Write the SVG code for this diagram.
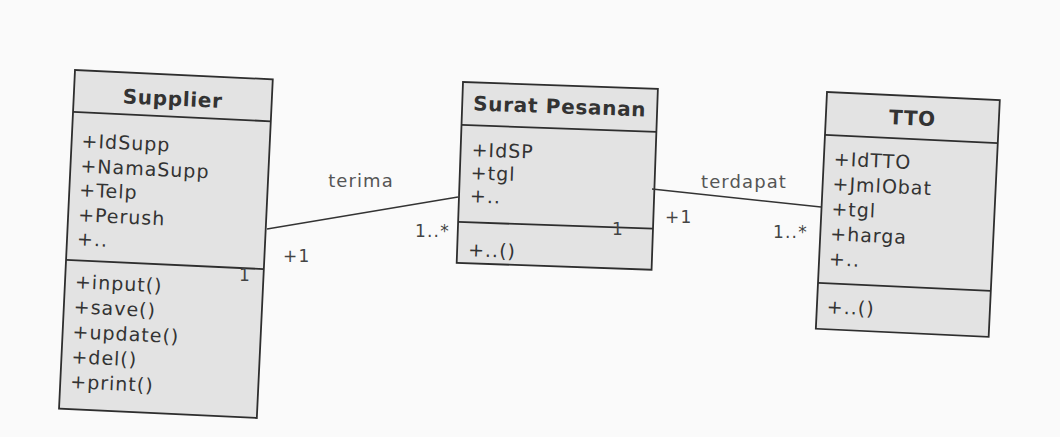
<svg xmlns="http://www.w3.org/2000/svg" width="1060" height="437" viewBox="0 0 1060 437">
<style>
.box{fill:#e3e3e3;stroke:#2e2e2e;stroke-width:1.8}
.sep{stroke:#2e2e2e;stroke-width:1.8}
.title{font-family:"DejaVu Sans",Verdana,sans-serif;font-weight:bold;font-size:20px;fill:#333;text-anchor:middle;letter-spacing:0.7px}
.item{font-family:"DejaVu Sans",Verdana,sans-serif;font-size:19px;fill:#333;letter-spacing:1px}
.conn{stroke:#333;stroke-width:1.4;fill:none}
.lbl{font-family:"DejaVu Sans",Verdana,sans-serif;font-size:18px;fill:#555;letter-spacing:1.1px}
.mult{font-family:"DejaVu Sans",Verdana,sans-serif;font-size:17px;fill:#444;letter-spacing:1.2px}
</style>
<rect x="0" y="0" width="1060" height="437" fill="#fafafa"/>
<g id="supplier" transform="translate(75,70) rotate(2.7)">
<rect class="box" x="0" y="0" width="198" height="339"/>
<line class="sep" x1="0" y1="42" x2="198" y2="42"/>
<line class="sep" x1="0" y1="190" x2="198" y2="190"/>
<text class="title" x="99" y="31">Supplier</text>
<text class="item" x="10" y="77">+IdSupp</text>
<text class="item" x="10" y="102">+NamaSupp</text>
<text class="item" x="10" y="126">+Telp</text>
<text class="item" x="10" y="151">+Perush</text>
<text class="item" x="10" y="175">+..</text>
<text class="item" x="10" y="218">+input()</text>
<text class="item" x="10" y="243">+save()</text>
<text class="item" x="10" y="268">+update()</text>
<text class="item" x="10" y="293">+del()</text>
<text class="item" x="10" y="318">+print()</text>
</g>
<g id="surat-pesanan" transform="translate(463,82) rotate(2)">
<rect class="box" x="0" y="0" width="195" height="181"/>
<line class="sep" x1="0" y1="43" x2="195" y2="43"/>
<line class="sep" x1="0" y1="140" x2="195" y2="140"/>
<text class="title" x="97.5" y="28">Surat Pesanan</text>
<text class="item" x="11" y="74">+IdSP</text>
<text class="item" x="11" y="97">+tgl</text>
<text class="item" x="11" y="120">+..</text>
<text class="item" x="11" y="174">+..()</text>
</g>
<g id="tto" transform="translate(827,92) rotate(2.7)">
<rect class="box" x="0" y="0" width="173" height="237"/>
<line class="sep" x1="0" y1="43" x2="173" y2="43"/>
<line class="sep" x1="0" y1="191" x2="173" y2="191"/>
<text class="title" x="86.5" y="29">TTO</text>
<text class="item" x="10" y="73">+IdTTO</text>
<text class="item" x="10" y="98">+JmlObat</text>
<text class="item" x="10" y="123">+tgl</text>
<text class="item" x="10" y="148">+harga</text>
<text class="item" x="10" y="173">+..</text>
<text class="item" x="10" y="221">+..()</text>
</g>
<g id="connectors">
<line class="conn" x1="267" y1="229" x2="458" y2="197"/>
<line class="conn" x1="652" y1="189" x2="821" y2="207"/>
<text class="lbl" x="361" y="187" text-anchor="middle">terima</text>
<text class="lbl" x="744" y="188" text-anchor="middle">terdapat</text>
<text class="mult" x="283" y="262">+1</text>
<text class="mult" x="415" y="237">1..*</text>
<text class="mult" x="239" y="281">1</text>
<text class="mult" x="665" y="223">+1</text>
<text class="mult" x="773" y="238">1..*</text>
<text class="mult" x="612" y="235">1</text>
</g>
</svg>
